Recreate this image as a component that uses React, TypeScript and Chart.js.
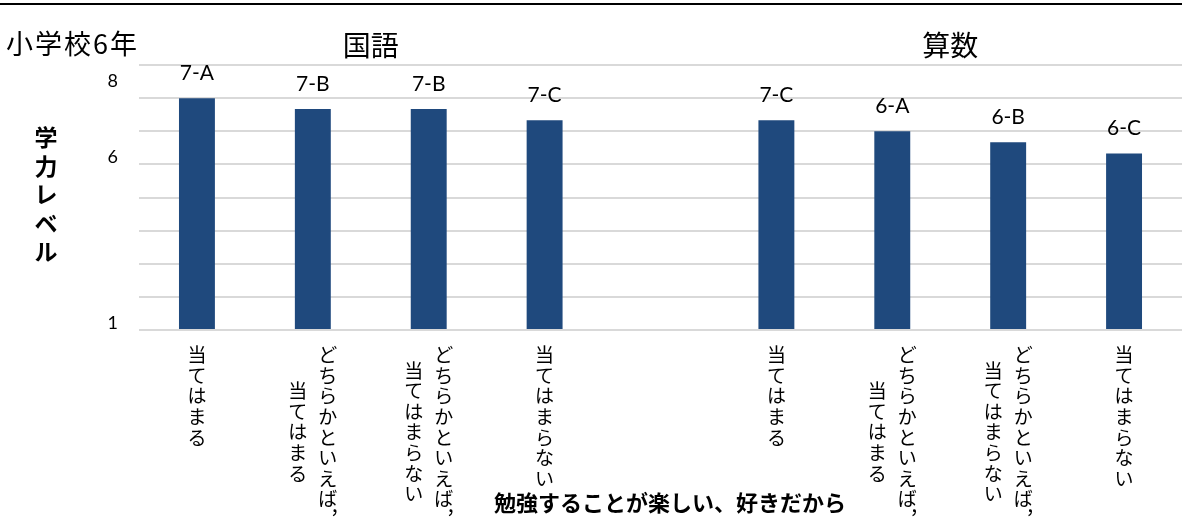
import React, { useEffect, useRef } from "react";
import { Chart, registerables } from "chart.js";

Chart.register(...registerables);

// ---- data ----
const chartTitle = "小学校6年";
const subjectNames = ["国語", "算数"];
const subjectFirst = [0, 5];
const subjectLast = [3, 8];

// x categories, written as vertical columns (rightmost column first)
const categoryColumns: string[][] = [
  ["当てはまる"],
  ["どちらかといえば，", "当てはまる"],
  ["どちらかといえば，", "当てはまらない"],
  ["当てはまらない"],
  [],
  ["当てはまる"],
  ["どちらかといえば，", "当てはまる"],
  ["どちらかといえば，", "当てはまらない"],
  ["当てはまらない"],
];
const categoryLabels = categoryColumns.map((c) => c.join(""));

const levelValues: (number | null)[] = [7, 6.67, 6.67, 6.33, null, 6.33, 6, 5.67, 5.33];
const levelLabels = ["7-A", "7-B", "7-B", "7-C", "", "7-C", "6-A", "6-B", "6-C"];

const yGridValues = [0, 1, 2, 3, 4, 5, 6, 7, 8];
const yLabelValues = [0, 5, 7.3];
const yLabelTexts = ["1", "6", "8"];

const yTitle = "学力レベル";
const xTitle = "勉強することが楽しい、好きだから";

const CJK = '"Noto Sans CJK JP", "Noto Sans", sans-serif';
const LAT = 'Lato, "Noto Sans", sans-serif';

const overlayPlugin = {
  id: "overlay",
  afterDraw(chart: any) {
    const ctx: CanvasRenderingContext2D = chart.ctx;
    const { top, bottom } = chart.chartArea;
    const xs = chart.scales.x;
    ctx.save();
    ctx.fillStyle = "#000";

    // top rule
    ctx.fillRect(0, 3, chart.width, 2);

    // chart title
    ctx.font = `400 27px ${CJK}`;
    ctx.textAlign = "left";
    ctx.textBaseline = "middle";
    (ctx as any).letterSpacing = "2px";
    ctx.fillText(chartTitle, 6, 44);
    (ctx as any).letterSpacing = "0px";

    // subject titles
    ctx.textAlign = "center";
    ctx.font = `400 28px ${CJK}`;
    subjectNames.forEach((name, i) => {
      const cx = (xs.getPixelForValue(subjectFirst[i]) + xs.getPixelForValue(subjectLast[i])) / 2;
      ctx.fillText(name, cx, 45);
    });

    // data labels
    const meta = chart.getDatasetMeta(0);
    ctx.font = `400 21px ${LAT}`;
    ctx.textBaseline = "alphabetic";
    meta.data.forEach((el: any, i: number) => {
      if (levelValues[i] == null) return;
      ctx.fillText(levelLabels[i], el.x, el.y - 18);
    });

    // vertical category labels
    const fs = 19;
    const step = 20.6;
    const colGap = 30;
    ctx.font = `400 ${fs}px ${CJK}`;
    ctx.textAlign = "center";
    ctx.textBaseline = "middle";
    const isComma = (ch: string) => ch === "，" || ch === ",";
    categoryColumns.forEach((cols, i) => {
      if (!cols.length) return;
      const cx = xs.getPixelForValue(i);
      const lens = cols.map((c) =>
        Array.from(c).reduce((s, ch) => s + (isComma(ch) ? 0.5 : 1) * step, 0)
      );
      const maxL = Math.max(...lens);
      const n = cols.length;
      cols.forEach((col, j) => {
        const colX = cx + ((n - 1) / 2 - j) * colGap;
        let cursor = bottom + 14.7 + (maxL - lens[j]) / 2;
        let prevCenter = cursor;
        Array.from(col).forEach((ch) => {
          if (isComma(ch)) {
            ctx.fillText("，", colX + 12, prevCenter + 8);
            cursor += step * 0.5;
          } else {
            const c = cursor + step / 2;
            ctx.fillText(ch, colX, c);
            prevCenter = c;
            cursor += step;
          }
        });
      });
    });

    // y title (vertical, bold)
    ctx.font = `700 23px ${CJK}`;
    Array.from(yTitle).forEach((ch, k) => {
      ctx.fillText(ch, 46, top + 72.5 + k * 28.5);
    });

    // x title
    ctx.font = `700 22px ${CJK}`;
    ctx.fillText(xTitle, 670, 503);

    ctx.restore();
  },
};

export default function App() {
  const canvasRef = useRef<HTMLCanvasElement>(null);

  useEffect(() => {
    if (!canvasRef.current) return;
    const chart = new Chart(canvasRef.current, {
      type: "bar",
      data: {
        labels: categoryLabels,
        datasets: [
          {
            data: levelValues as any,
            backgroundColor: "#1f497d",
            barPercentage: 0.31,
            categoryPercentage: 1,
          },
        ],
      },
      options: {
        responsive: false,
        animation: false,
        layout: { padding: { top: 65, right: 0, bottom: 0, left: 0 } },
        plugins: {
          legend: { display: false },
          title: { display: false },
          tooltip: { enabled: false },
        },
        scales: {
          x: {
            grid: { display: false },
            border: { display: false },
            ticks: { display: false },
            afterFit: (s: any) => {
              s.height = 187;
            },
          },
          y: {
            min: 0,
            max: 8,
            afterBuildTicks: (s: any) => {
              const vals = [...yGridValues];
              yLabelValues.forEach((v) => {
                if (!vals.includes(v)) vals.push(v);
              });
              s.ticks = vals.map((v) => ({ value: v }));
            },
            afterFit: (s: any) => {
              s.width = 139;
            },
            grid: {
              drawTicks: false,
              lineWidth: 2,
              color: (c: any) =>
                c.tick && yGridValues.includes(c.tick.value) ? "#d9d9d9" : "rgba(0,0,0,0)",
            },
            border: { display: false },
            ticks: {
              autoSkip: false,
              padding: 21,
              labelOffset: -7,
              color: "#000",
              font: { family: LAT, size: 18 },
              callback: (v: any) => {
                const idx = yLabelValues.indexOf(Number(v));
                return idx >= 0 ? yLabelTexts[idx] : "";
              },
            },
          },
        },
      },
      plugins: [overlayPlugin],
    });
    return () => chart.destroy();
  }, []);

  return (
    <div style={{ position: "absolute", left: 0, top: 0, width: 1182, height: 517, background: "#fff" }}>
      <canvas ref={canvasRef} width={1182} height={517} style={{ display: "block" }} />
    </div>
  );
}
